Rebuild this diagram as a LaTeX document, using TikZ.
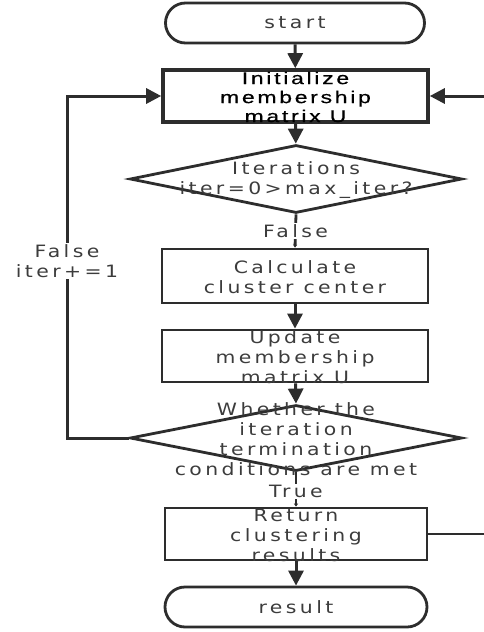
\documentclass[tikz,border=0pt]{standalone}
\usepackage{fontspec}
\setmainfont{DejaVu Sans}[FakeStretch=1.2,LetterSpace=20]
\newfontfamily\initfont{Liberation Sans}[FakeStretch=1.35,LetterSpace=16,FakeBold=0.6]
\usetikzlibrary{shapes.geometric,arrows.meta}
\definecolor{ln}{RGB}{45,45,45}
\definecolor{tx}{RGB}{60,60,60}
\tikzset{
  base/.style={draw=ln,line width=2.8pt,inner sep=0pt,fill=white},
  term/.style={base,rectangle,rounded corners=20pt},
  proc/.style={base,rectangle},
  dia/.style={base,diamond},
  txt/.style={inner sep=0pt,align=center,text=tx,font=\fontsize{17pt}{20pt}\selectfont},
  lbl/.style={txt,fill=white,inner sep=1pt},
  conn/.style={draw=ln,line width=3pt,-{Triangle[length=15pt,width=15pt]}},
  tick/.style={draw=ln,line width=2.8pt,-{Triangle[length=3pt,width=4pt]}},
  plain/.style={draw=ln,line width=2.8pt}
}
\begin{document}
\begin{tikzpicture}[x=1pt,y=-1pt]
\useasboundingbox[fill=white] (0,0) rectangle (484,632);
% nodes
\node[term,minimum width=259pt,minimum height=40pt] (start) at (295,23) {};
\node[txt] (startt) at (start) {start};
\node[proc,line width=3.6pt,minimum width=265pt,minimum height=52pt] (init) at (295.5,96) {};
\node[dia,minimum width=332pt,minimum height=68pt] (d1) at (296,179) {};
\node[txt] (d1t) at (296,180) {Iterations\\iter=0>max\_iter?};
\node[proc,minimum width=266pt,minimum height=54pt] (calc) at (295,276) {};
\node[txt] (calct) at (295,277) {Calculate\\cluster center};
\node[proc,minimum width=266pt,minimum height=52pt] (upd) at (295,356) {};
\node[dia,minimum width=332pt,minimum height=66pt] (d2) at (296,438) {};
\node[proc,minimum width=262pt,minimum height=52pt] (ret) at (296,534) {};
\node[term,minimum width=262pt,minimum height=40pt] (res) at (296,607) {};
\node[txt] (rest) at (res) {result};
% coordinates
\coordinate (lc1) at (67,438);
\coordinate (lc2) at (67,96);
\coordinate (re) at (484,534);
\coordinate (ie) at (484,96);
% connectors
\draw[conn] (start) -- (init);
\draw[conn] (init) -- (d1);
\draw[tick] (d1.south) -- (calc.north) node[lbl,midway] (f1) {False};
\draw[conn] (calc) -- (upd);
\draw[conn] (upd) -- (d2.north);
\draw[tick] (d2.south) -- (ret.north) node[lbl,pos=0.55] (t1) {True};
\draw[conn] (ret) -- (res);
\draw[conn] (d2.west) -- (lc1) -- (lc2) -- (init.west);
\node[lbl] (f2) at (67,261) {False\\iter+=1};
\draw[plain] (ret.east) -- (re);
\draw[conn] (ie) -- (init.east);
% texts on top of connectors
\node[txt,text=black,font=\fontsize{17pt}{19pt}\initfont] (initt) at (295.5,97) {Initialize\\membership\\matrix U};
\node[txt] (updt) at (295,357) {Update\\membership\\matrix U};
\node[txt] (d2t) at (296,439) {Whether the\\iteration\\termination\\conditions are met};
\node[txt] (rett) at (296,535) {Return\\clustering\\results};
\end{tikzpicture}
\end{document}
